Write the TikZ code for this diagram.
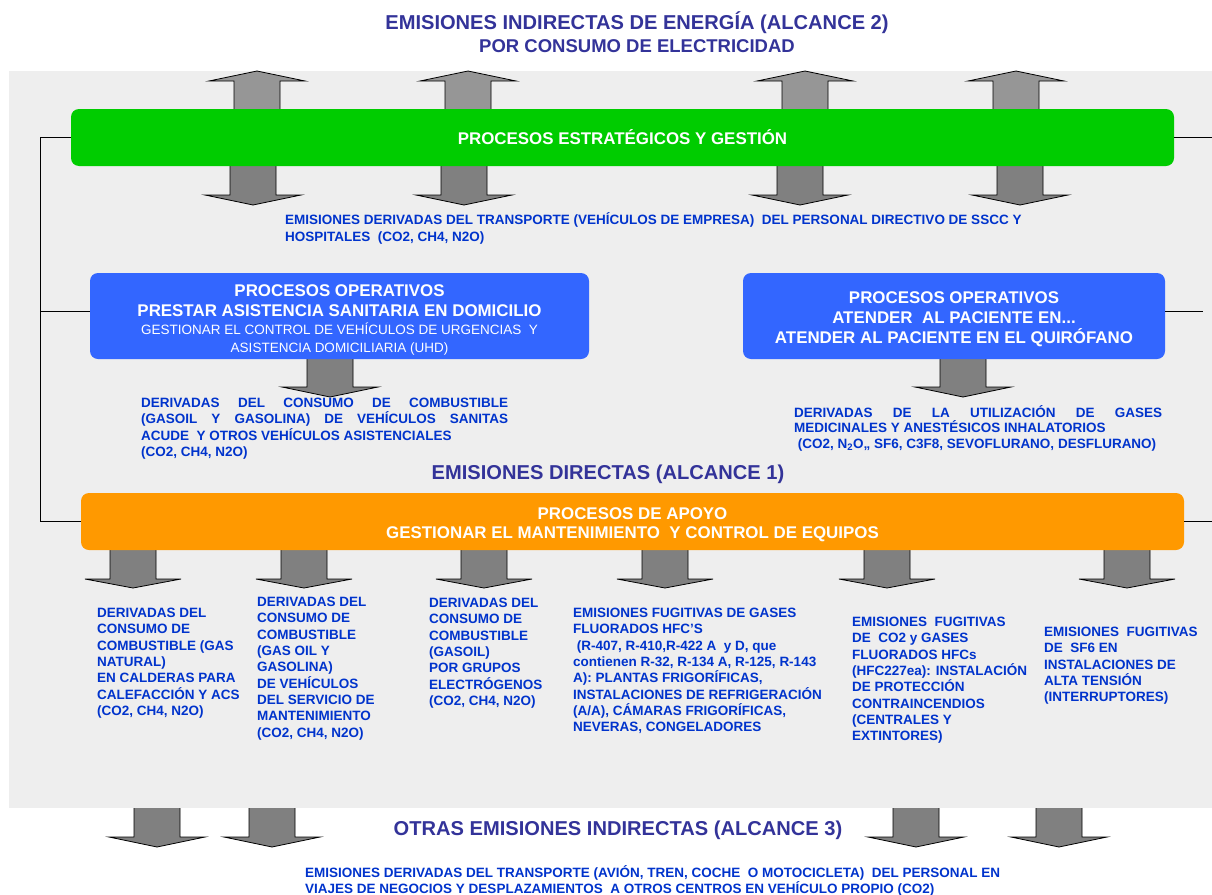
\documentclass[tikz,border=0pt]{standalone}
\usepackage{fontspec}
\setmainfont{Liberation Sans}
\usetikzlibrary{positioning}
\definecolor{titleblue}{HTML}{333399}
\definecolor{textblue}{HTML}{0033CC}
\definecolor{stratgreen}{HTML}{00CC00}
\definecolor{opblue}{HTML}{3366FF}
\definecolor{supportorange}{HTML}{FF9900}
\definecolor{panelgray}{HTML}{EEEEEE}
\definecolor{arrowgray}{HTML}{808080}
\definecolor{arrowlight}{HTML}{969696}

% block arrow: [fill] centre x, start y, head y, tip y
\newcommand{\blockarrow}[5][arrowgray]{%
  \draw[arrowbody, fill=#1] (#2-23,#3) -- (#2-23,#4) -- (#2-48,#4) -- (#2,#5)
    -- (#2+48,#4) -- (#2+23,#4) -- (#2+23,#3);}

\begin{document}
\begin{tikzpicture}[x=1pt, y=-1pt,
    process/.style={rectangle, rounded corners=8pt, minimum height=57pt, inner sep=0pt,
      align=center, text=white, font=\bfseries\fontsize{16.9}{19.5}\selectfont},
    heading/.style={text=titleblue, inner sep=0pt, font=\bfseries\fontsize{20.1}{22}\selectfont},
    emission/.style={text=textblue, inner sep=0pt, anchor=north west, align=left,
      font=\bfseries\fontsize{13.5}{16.3}\selectfont},
    arrowbody/.style={draw=black, line width=0.8pt},
    link/.style={line width=0.8pt}
  ]
  \useasboundingbox (0,0) rectangle (1212,894);
  \fill[panelgray] (9,71) rectangle (1212,808);

  % scope 2
  \node[heading] (alc2) at (637,23) {EMISIONES INDIRECTAS DE ENERGÍA (ALCANCE 2)};
  \node[heading, font=\bfseries\fontsize{18.5}{22}\selectfont] (elec) at (637,46) {POR CONSUMO DE ELECTRICIDAD};

  % arrows
  \foreach \x in {257,468,805,1016} \blockarrow[arrowlight]{\x}{109}{81}{71};
  \foreach \x in {253,464,800,1020} \blockarrow{\x}{166}{195}{205};
  \foreach \x in {330,963} \blockarrow{\x}{359}{387}{397};
  \foreach \x in {133,304,484,665,887,1127} \blockarrow{\x}{550}{579}{588};
  \foreach \x in {157,272,916,1059} \blockarrow{\x}{808}{837}{847};

  % processes
  \node[process, fill=stratgreen, minimum width=1103pt] (strat) at (622.5,137.5)
    {PROCESOS ESTRATÉGICOS Y GESTIÓN};
  \node[process, fill=opblue, minimum width=499pt, minimum height=86pt] (dom) at (339.5,316)
    {\rule{0pt}{20pt}PROCESOS OPERATIVOS\\PRESTAR ASISTENCIA SANITARIA EN DOMICILIO\\[-1pt]
     {\mdseries\fontsize{13.5}{19}\selectfont GESTIONAR EL CONTROL DE VEHÍCULOS DE URGENCIAS~~Y}\\[-2pt]
     {\mdseries\fontsize{13.5}{19}\selectfont ASISTENCIA DOMICILIARIA (UHD)}};
  \node[process, fill=opblue, minimum width=422pt, minimum height=86pt] (quir) at (954,316)
    {\rule{0pt}{18pt}PROCESOS OPERATIVOS\\ATENDER~ AL PACIENTE EN...\\[0.5pt]ATENDER AL PACIENTE EN EL QUIRÓFANO};
  \node[process, fill=supportorange, minimum width=1103pt] (apoyo) at (632.5,521.5)
    {\rule{0pt}{18pt}PROCESOS DE APOYO\\GESTIONAR EL MANTENIMIENTO~ Y CONTROL DE EQUIPOS};

  % links
  \coordinate (rail) at (40,0);
  \coordinate (edge) at (1212,0);
  \coordinate (stub) at (1203,0);
  \draw[link] (strat.west) -- (strat.west -| rail) -- (apoyo.west -| rail) -- (apoyo.west);
  \draw[link] ([yshift=5pt]dom.west) -- ([yshift=5pt]dom.west -| rail);
  \draw[link] (strat.east) -- (strat.east -| edge);
  \draw[link] ([yshift=5pt]quir.east) -- ([yshift=5pt]quir.east -| stub);
  \draw[link] (apoyo.east) -- (apoyo.east -| edge);

  % emissions
  \node[emission, font=\bfseries\fontsize{13.5}{17}\selectfont] (transp) at (285,212)
    {EMISIONES DERIVADAS DEL TRANSPORTE (VEHÍCULOS DE EMPRESA)~ DEL PERSONAL DIRECTIVO DE SSCC Y\\
     HOSPITALES~ (CO2, CH4, N2O)};
  \node[emission] (domtxt) at (141,398)
    {\makebox[367pt][s]{DERIVADAS DEL CONSUMO DE COMBUSTIBLE}\\
     \makebox[367pt][s]{(GASOIL Y GASOLINA) DE VEHÍCULOS SANITAS}\\
     ACUDE~ Y OTROS VEHÍCULOS ASISTENCIALES\\(CO2, CH4, N2O)};
  \node[emission, font=\bfseries\fontsize{13.5}{15.5}\selectfont] (quirtxt) at (794,405)
    {\makebox[368pt][s]{DERIVADAS DE LA UTILIZACIÓN DE GASES}\\
     MEDICINALES Y ANESTÉSICOS INHALATORIOS\\
     \ (CO2, N\textsubscript{2}O,, SF6, C3F8, SEVOFLURANO, DESFLURANO)};

  \node[heading] (alc1) at (608,474) {EMISIONES DIRECTAS (ALCANCE 1)};

  \node[emission] (calderas) at (97,608)
    {DERIVADAS DEL\\CONSUMO DE\\COMBUSTIBLE (GAS\\NATURAL)\\EN CALDERAS PARA\\CALEFACCIÓN Y ACS\\(CO2, CH4, N2O)};
  \node[emission] (mantto) at (257,597)
    {DERIVADAS DEL\\CONSUMO DE\\COMBUSTIBLE\\(GAS OIL Y\\GASOLINA)\\DE VEHÍCULOS\\DEL SERVICIO DE\\MANTENIMIENTO\\(CO2, CH4, N2O)};
  \node[emission] (grupos) at (429,598)
    {DERIVADAS DEL\\CONSUMO DE\\COMBUSTIBLE\\(GASOIL)\\POR GRUPOS\\ELECTRÓGENOS\\(CO2, CH4, N2O)};
  \node[emission] (frio) at (573,608)
    {EMISIONES FUGITIVAS DE GASES\\FLUORADOS HFC’S\\\ (R-407, R-410,R-422 A~ y D, que\\
     contienen R-32, R-134 A, R-125, R-143\\A): PLANTAS FRIGORÍFICAS,\\
     INSTALACIONES DE REFRIGERACIÓN\\(A/A), CÁMARAS FRIGORÍFICAS,\\NEVERAS, CONGELADORES};
  \node[emission] (incendio) at (852,617)
    {EMISIONES~ FUGITIVAS\\DE~ CO2 y GASES\\FLUORADOS HFCs\\(HFC227ea): INSTALACIÓN\\DE PROTECCIÓN\\
     CONTRAINCENDIOS\\(CENTRALES Y\\EXTINTORES)};
  \node[emission] (tension) at (1044,627)
    {EMISIONES~ FUGITIVAS\\DE~ SF6 EN\\INSTALACIONES DE\\ALTA TENSIÓN\\(INTERRUPTORES)};

  % scope 3
  \node[heading] (alc3) at (618,830) {OTRAS EMISIONES INDIRECTAS (ALCANCE 3)};
  \node[emission, font=\bfseries\fontsize{13.5}{16}\selectfont] (viajes) at (305,865)
    {EMISIONES DERIVADAS DEL TRANSPORTE (AVIÓN, TREN, COCHE~ O MOTOCICLETA)~ DEL PERSONAL EN\\
     VIAJES DE NEGOCIOS Y DESPLAZAMIENTOS~ A OTROS CENTROS EN VEHÍCULO PROPIO (CO2)};
\end{tikzpicture}
\end{document}
